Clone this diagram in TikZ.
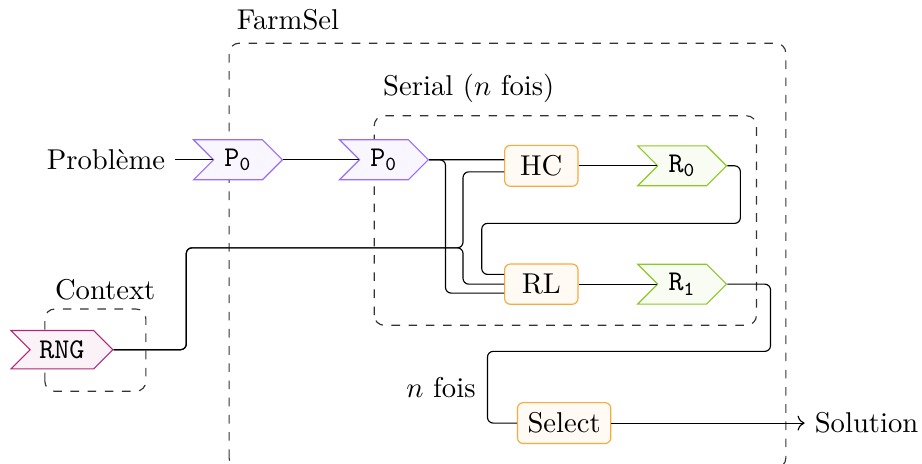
\documentclass[tikz,border=0pt]{standalone}
\usepackage{amsmath}
\usetikzlibrary{shapes.symbols, arrows.meta, positioning, calc}
\definecolor{probviolet}{RGB}{150,110,255}
\definecolor{algorange}{RGB}{250,170,60}
\definecolor{resgreen}{RGB}{140,200,40}
\definecolor{rngpink}{RGB}{175,40,120}
\tikzset{
    sigbox/.style={signal, signal to=east, signal from=west, draw, font=\ttfamily,
                   minimum width=1.09cm, minimum height=0.49cm, inner sep=2pt},
    probsig/.style={sigbox, draw=probviolet, fill=probviolet!6},
    ressig/.style={sigbox, draw=resgreen, fill=resgreen!6},
    rngsig/.style={sigbox, draw=rngpink, fill=rngpink!6,
                   minimum width=1.25cm, minimum height=0.47cm},
    algbox/.style={rectangle, rounded corners=2pt, draw=algorange, fill=algorange!6,
                   minimum width=0.9cm, minimum height=0.48cm, inner sep=3.5pt},
    link/.style={draw=black, rounded corners=2pt},
    arrow/.style={->, draw=black},
    groupbox/.style={draw=black!80, dashed, rounded corners=3.5pt},
}

\begin{document}
\begin{tikzpicture}[node distance=0.94cm and 0.96cm]
    \useasboundingbox (0,0) rectangle (11.31,5.68);
    % groups
    \draw[groupbox] (2.81,-0.06) rectangle (9.64,5.15);
    \node[anchor=west] (farmlbl) at (2.78,5.44) {FarmSel};
    \draw[groupbox] (4.59,1.69) rectangle (9.28,4.26);
    \node (seriallbl) at (5.75,4.60) {Serial ($n$ fois)};
    \draw[groupbox] (0.55,0.88) rectangle (1.79,1.89);
    \node (contextlbl) at (1.29,2.13) {Context};
    % nodes
    \node (prob) at (1.30,3.72) {Problème};
    \node[probsig] (p0in) at (2.92,3.72) {P\textsubscript{0}};
    \node[probsig] (p0) at (4.71,3.72) {P\textsubscript{0}};
    \node[algbox] (hc) at (6.64,3.646) {HC};
    \node[ressig, right=of hc] (r0) {R\textsubscript{0}};
    \node[algbox, below=of hc] (rl) {RL};
    \node[ressig, right=of rl] (r1) {R\textsubscript{1}};
    \node[rngsig] (rng) at (0.76,1.39) {RNG};
    \node[algbox] (sel) at (6.92,0.49) {Select};
    \node (sol) at (10.63,0.49) {Solution};
    \node (nfois) at (5.41,0.92) {$n$ fois};
    \coordinate (rngsplit) at (5.68,2.64);
    \coordinate (loopback) at (5.91,2.94);
    \coordinate (selback) at (5.98,1.37);
    % links
    \draw[link] (prob) -- (p0in.west);
    \draw[link] (p0in.east) -- (p0.west);
    \draw[link] (p0.east) -- ($(hc.west)+(0,0.074)$);
    \draw[link] (p0.east) -- ++(0.2,0) |- ($(rl.west)+(0,-0.11)$);
    \draw[link] (rng.east) -- ++(0.89,0) |- (rngsplit) |- ($(hc.west)+(0,-0.074)$);
    \draw[link] (rng.east) -- ++(0.89,0) |- (rngsplit) |- (rl.west);
    \draw[link] (r0.east) -- ++(0.16,0) |- (loopback) |- ($(rl.west)+(0,0.12)$);
    \draw[link] (hc) -- (r0.west);
    \draw[link] (rl) -- (r1.west);
    \draw[link] (r1.east) -- ++(0.53,0) |- (selback) |- (sel.west);
    \draw[arrow] (sel) -- (sol);
\end{tikzpicture}
\end{document}
